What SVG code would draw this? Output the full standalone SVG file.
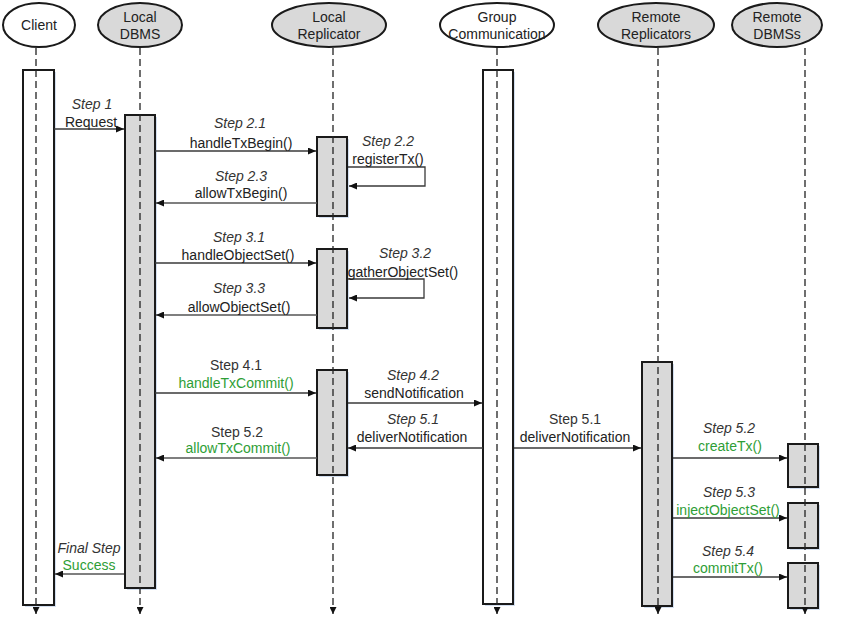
<svg xmlns="http://www.w3.org/2000/svg" width="850" height="617" viewBox="0 0 850 617">
  <defs>
    <marker id="arrow" markerUnits="userSpaceOnUse" markerWidth="8" markerHeight="7" refX="8" refY="3.5" orient="auto">
      <path d="M0,0 L8,3.5 L0,7 z" fill="#111"/>
    </marker>
    <marker id="lifeEnd" markerUnits="userSpaceOnUse" markerWidth="7" markerHeight="7" refX="7" refY="3.5" orient="auto">
      <path d="M0,0 L7,3.5 L0,7 z" fill="#111"/>
    </marker>
    <style>
      .head { stroke: #1a1a1a; stroke-width: 2; }
      .white { fill: #ffffff; }
      .grey { fill: #d9d9d9; }
      .ht { font-family: "Liberation Sans", Arial, sans-serif; font-size: 14px; fill: #222; text-anchor: middle; }
      .life { stroke: #222; stroke-width: 1.3; stroke-dasharray: 7 4; fill: none; marker-end: url(#lifeEnd); }
      .act { stroke: #1a1a1a; stroke-width: 2; }
      .shadow { fill: #d3dff0; }
      .msg { stroke: #3a3a3a; stroke-width: 1.3; fill: none; marker-end: url(#arrow); }
      .ret { stroke: #555; stroke-width: 1.3; fill: none; marker-end: url(#arrow); }
      .step { font-family: "Liberation Sans", Arial, sans-serif; font-size: 14px; fill: #333; text-anchor: middle; font-style: italic; }
      .stepr { font-family: "Liberation Sans", Arial, sans-serif; font-size: 14px; fill: #333; text-anchor: middle; }
      .call { font-family: "Liberation Sans", Arial, sans-serif; font-size: 14px; fill: #222; text-anchor: middle; }
      .green { fill: #2e9e36; }
    </style>
  </defs>

  <!-- Client -->
  <g id="client">
    <ellipse class="head white" cx="39" cy="25" rx="36" ry="22"/>
    <text class="ht" x="39" y="30">Client</text>
    <rect class="shadow" x="25" y="72" width="31" height="535"/>
    <rect class="act white" x="23" y="70" width="31" height="535"/>
    <line class="life" x1="36" y1="48" x2="36" y2="614"/>
  </g>

  <!-- Local DBMS -->
  <g id="local-dbms">
    <ellipse class="head grey" cx="140" cy="25" rx="42" ry="22"/>
    <text class="ht" x="140" y="22">Local</text>
    <text class="ht" x="140" y="39">DBMS</text>
    <rect class="shadow" x="127" y="117" width="30" height="473"/>
    <rect class="act grey" x="125" y="115" width="30" height="473"/>
    <line class="life" x1="140" y1="48" x2="140" y2="614"/>
  </g>

  <!-- Local Replicator -->
  <g id="local-replicator">
    <ellipse class="head grey" cx="329" cy="25" rx="57" ry="22"/>
    <text class="ht" x="329" y="22">Local</text>
    <text class="ht" x="329" y="39">Replicator</text>
    <rect class="shadow" x="319" y="139" width="30" height="79"/>
    <rect class="act grey" x="317" y="137" width="30" height="79"/>
    <rect class="shadow" x="319" y="251" width="30" height="79"/>
    <rect class="act grey" x="317" y="249" width="30" height="79"/>
    <rect class="shadow" x="319" y="372" width="30" height="105"/>
    <rect class="act grey" x="317" y="370" width="30" height="105"/>
    <line class="life" x1="333" y1="48" x2="333" y2="614"/>
  </g>

  <!-- Group Communication -->
  <g id="group-communication">
    <ellipse class="head white" cx="497" cy="25" rx="57" ry="22"/>
    <text class="ht" x="497" y="22">Group</text>
    <text class="ht" x="497" y="39">Communication</text>
    <rect class="shadow" x="485" y="72" width="30" height="534"/>
    <rect class="act white" x="483" y="70" width="30" height="534"/>
    <line class="life" x1="497" y1="48" x2="497" y2="614"/>
  </g>

  <!-- Remote Replicators -->
  <g id="remote-replicators">
    <ellipse class="head grey" cx="656" cy="25" rx="58" ry="22"/>
    <text class="ht" x="656" y="22">Remote</text>
    <text class="ht" x="656" y="39">Replicators</text>
    <rect class="shadow" x="644" y="364" width="30" height="244"/>
    <rect class="act grey" x="642" y="362" width="30" height="244"/>
    <line class="life" x1="658" y1="48" x2="658" y2="614"/>
  </g>

  <!-- Remote DBMSs -->
  <g id="remote-dbmss">
    <ellipse class="head grey" cx="777" cy="25" rx="45" ry="22"/>
    <text class="ht" x="777" y="22">Remote</text>
    <text class="ht" x="777" y="39">DBMSs</text>
    <rect class="shadow" x="790" y="446" width="30" height="43"/>
    <rect class="act grey" x="788" y="444" width="30" height="43"/>
    <rect class="shadow" x="790" y="505" width="30" height="45"/>
    <rect class="act grey" x="788" y="503" width="30" height="45"/>
    <rect class="shadow" x="790" y="565" width="30" height="45"/>
    <rect class="act grey" x="788" y="563" width="30" height="45"/>
    <line class="life" x1="805" y1="48" x2="805" y2="614"/>
  </g>

  <!-- Messages -->
  <g id="connectors">
    <line class="msg" x1="54" y1="129" x2="124" y2="129"/>
    <line class="msg" x1="155" y1="151" x2="316" y2="151"/>
    <polyline class="msg" points="348,167 425,167 425,186 349,186"/>
    <line class="ret" x1="317" y1="203" x2="156" y2="203"/>
    <line class="msg" x1="155" y1="263" x2="316" y2="263"/>
    <polyline class="msg" points="348,279 424,279 424,298 349,298"/>
    <line class="ret" x1="317" y1="315" x2="156" y2="315"/>
    <line class="msg" x1="155" y1="393" x2="316" y2="393"/>
    <line class="msg" x1="348" y1="403" x2="482" y2="403"/>
    <line class="msg" x1="483" y1="448" x2="348" y2="448"/>
    <line class="ret" x1="317" y1="458" x2="156" y2="458"/>
    <line class="msg" x1="514" y1="448" x2="641" y2="448"/>
    <line class="msg" x1="673" y1="458" x2="787" y2="458"/>
    <line class="msg" x1="673" y1="518" x2="787" y2="518"/>
    <line class="msg" x1="673" y1="577" x2="787" y2="577"/>
    <line class="ret" x1="124" y1="574" x2="55" y2="574"/>
  </g>

  <!-- Message labels -->
  <g id="labels">
    <text class="step" x="92" y="109">Step 1</text>
    <text class="call" x="91" y="127">Request</text>

    <text class="step" x="240" y="128">Step 2.1</text>
    <text class="call" x="241" y="148">handleTxBegin()</text>

    <text class="step" x="388" y="146">Step 2.2</text>
    <text class="call" x="388" y="164">registerTx()</text>

    <text class="step" x="241" y="181">Step 2.3</text>
    <text class="call" x="241" y="198">allowTxBegin()</text>

    <text class="step" x="239" y="242">Step 3.1</text>
    <text class="call" x="238" y="260">handleObjectSet()</text>

    <text class="step" x="405" y="258">Step 3.2</text>
    <text class="call" x="403" y="277">gatherObjectSet()</text>

    <text class="step" x="239" y="293">Step 3.3</text>
    <text class="call" x="239" y="312">allowObjectSet()</text>

    <text class="stepr" x="236" y="370">Step 4.1</text>
    <text class="call green" x="236" y="388">handleTxCommit()</text>

    <text class="step" x="413" y="380">Step 4.2</text>
    <text class="call" x="414" y="398">sendNotification</text>

    <text class="step" x="413" y="424">Step 5.1</text>
    <text class="call" x="412" y="442">deliverNotification</text>

    <text class="stepr" x="237" y="437">Step 5.2</text>
    <text class="call green" x="238" y="453">allowTxCommit()</text>

    <text class="stepr" x="575" y="424">Step 5.1</text>
    <text class="call" x="575" y="442">deliverNotification</text>

    <text class="step" x="729" y="433">Step 5.2</text>
    <text class="call green" x="730" y="451">createTx()</text>

    <text class="step" x="729" y="497">Step 5.3</text>
    <text class="call green" x="728" y="515">injectObjectSet()</text>

    <text class="step" x="728" y="556">Step 5.4</text>
    <text class="call green" x="728" y="573">commitTx()</text>

    <text class="step" x="89" y="553">Final Step</text>
    <text class="call green" x="89" y="570">Success</text>
  </g>
</svg>
